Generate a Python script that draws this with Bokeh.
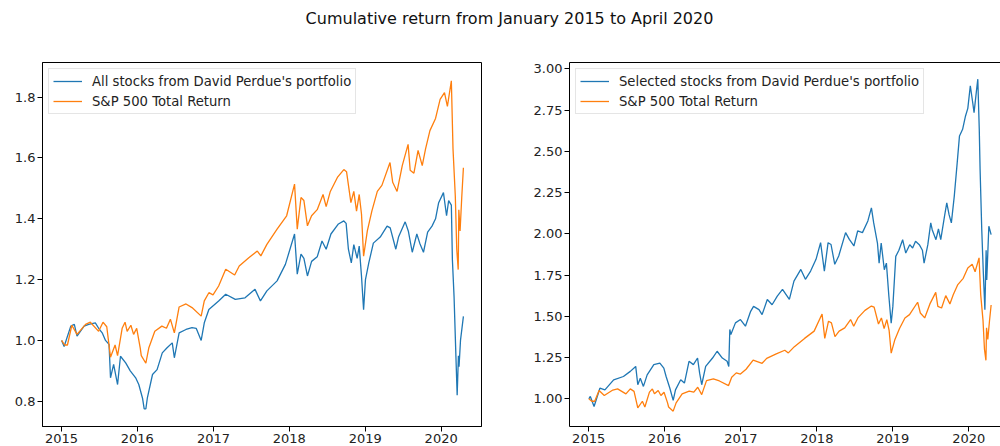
import pandas as pd
from datetime import datetime
from bokeh.plotting import figure
from bokeh.layouts import column, row
from bokeh.models import (Div, Range1d, FixedTicker, DatetimeTickFormatter,
                          NumeralTickFormatter, LinearAxis)
from bokeh.embed import file_html
from bokeh.resources import INLINE

TITLE = "Cumulative return from January 2015 to April 2020"
LABEL_ALL = "All stocks from David Perdue's portfolio"
LABEL_SEL = "Selected stocks from David Perdue's portfolio"
LABEL_SP = "S&P 500 Total Return"
YEAR_TICKS = [2015, 2016, 2017, 2018, 2019, 2020]
LEFT_Y_TICKS = [0.8, 1.0, 1.2, 1.4, 1.6, 1.8]
RIGHT_Y_TICKS = [1.0, 1.25, 1.5, 1.75, 2.0, 2.25, 2.5, 2.75, 3.0]

# S&P 500 Total Return (cumulative, same series in both panels)
sp_dates = [
    "2015-01-02", "2015-01-16", "2015-01-30", "2015-02-20", "2015-03-17", "2015-04-27",
    "2015-05-20", "2015-06-29", "2015-07-20", "2015-08-07", "2015-08-25", "2015-09-16",
    "2015-09-28", "2015-10-20", "2015-11-03", "2015-11-13", "2015-12-01", "2015-12-14",
    "2015-12-29", "2016-01-15", "2016-01-20", "2016-02-11", "2016-02-25", "2016-03-25",
    "2016-04-28", "2016-05-20", "2016-06-08", "2016-06-27", "2016-07-20", "2016-08-22",
    "2016-09-20", "2016-11-03", "2016-11-18", "2016-12-10", "2016-12-30", "2017-01-26",
    "2017-03-01", "2017-04-13", "2017-05-05", "2017-06-20", "2017-07-31", "2017-08-17",
    "2017-09-15", "2017-11-03", "2017-12-19", "2018-01-26", "2018-02-08", "2018-02-26",
    "2018-03-12", "2018-03-29", "2018-04-18", "2018-05-15", "2018-06-12", "2018-06-27",
    "2018-07-17", "2018-08-20", "2018-09-20", "2018-10-03", "2018-10-24", "2018-11-07",
    "2018-11-20", "2018-12-03", "2018-12-14", "2018-12-24", "2019-01-11", "2019-02-02",
    "2019-02-28", "2019-03-22", "2019-04-30", "2019-05-13", "2019-06-03", "2019-06-28",
    "2019-07-26", "2019-08-05", "2019-08-23", "2019-09-12", "2019-10-02", "2019-10-18",
    "2019-11-08", "2019-12-05", "2019-12-27", "2020-01-17", "2020-01-31", "2020-02-19",
    "2020-02-27", "2020-03-09", "2020-03-16", "2020-03-23", "2020-03-26", "2020-04-01",
    "2020-04-09", "2020-04-17",
]
sp_vals = [
    1.000, 0.985, 0.985, 1.050, 1.020, 1.053,
    1.060, 1.030, 1.060, 1.045, 0.945, 0.985,
    0.950, 1.040, 1.060, 1.030, 1.050, 1.020,
    1.040, 0.975, 0.950, 0.925, 0.975, 1.030,
    1.047, 1.040, 1.070, 1.025, 1.110, 1.120,
    1.108, 1.080, 1.130, 1.157, 1.150, 1.179,
    1.234, 1.215, 1.245, 1.272, 1.294, 1.278,
    1.316, 1.366, 1.410, 1.514, 1.366, 1.470,
    1.460, 1.377, 1.410, 1.430, 1.480, 1.440,
    1.490, 1.536, 1.562, 1.555, 1.453, 1.490,
    1.425, 1.480, 1.415, 1.277, 1.360, 1.426,
    1.490, 1.510, 1.585, 1.520, 1.490, 1.575,
    1.645, 1.560, 1.550, 1.625, 1.575, 1.630,
    1.690, 1.730, 1.793, 1.815, 1.770, 1.854,
    1.630, 1.475, 1.300, 1.233, 1.430, 1.360,
    1.470, 1.568,
]

# All stocks from David Perdue's portfolio (left panel)
all_dates = [
    "2015-01-02", "2015-01-14", "2015-02-15", "2015-03-04", "2015-03-17", "2015-04-20",
    "2015-05-12", "2015-06-13", "2015-06-29", "2015-07-16", "2015-08-01", "2015-08-18",
    "2015-08-25", "2015-09-09", "2015-09-28", "2015-10-12", "2015-11-06", "2015-11-28",
    "2015-12-24", "2016-01-08", "2016-01-26", "2016-02-03", "2016-02-11", "2016-02-18",
    "2016-03-14", "2016-04-05", "2016-04-30", "2016-05-23", "2016-06-17", "2016-06-27",
    "2016-07-20", "2016-08-22", "2016-09-20", "2016-10-10", "2016-11-03", "2016-11-18",
    "2016-12-10", "2017-01-26", "2017-03-01", "2017-04-16", "2017-06-02", "2017-07-20",
    "2017-08-15", "2017-09-15", "2017-11-03", "2017-12-13", "2018-01-26", "2018-02-08",
    "2018-02-26", "2018-03-12", "2018-03-29", "2018-04-18", "2018-05-15", "2018-06-07",
    "2018-06-27", "2018-07-20", "2018-08-25", "2018-09-20", "2018-10-01", "2018-10-12",
    "2018-10-26", "2018-11-07", "2018-11-23", "2018-12-03", "2018-12-14", "2018-12-24",
    "2019-01-02", "2019-01-18", "2019-02-09", "2019-03-14", "2019-04-16", "2019-05-01",
    "2019-05-28", "2019-06-10", "2019-07-12", "2019-07-27", "2019-08-15", "2019-09-06",
    "2019-09-20", "2019-10-08", "2019-10-28", "2019-11-18", "2019-12-05", "2019-12-20",
    "2020-01-12", "2020-01-27", "2020-02-06", "2020-02-19", "2020-02-24", "2020-03-03",
    "2020-03-12", "2020-03-18", "2020-03-24", "2020-03-27", "2020-04-03", "2020-04-17",
]
all_vals = [
    1.000, 0.980, 1.047, 1.053, 1.014, 1.047,
    1.053, 1.058, 1.040, 1.025, 1.000, 0.987,
    0.877, 0.921, 0.855, 0.948, 0.926, 0.900,
    0.877, 0.855, 0.810, 0.775, 0.775, 0.810,
    0.888, 0.904, 0.959, 0.976, 0.992, 0.943,
    1.025, 1.036, 1.042, 1.040, 1.000, 1.058,
    1.102, 1.130, 1.152, 1.135, 1.140, 1.168,
    1.130, 1.163, 1.196, 1.250, 1.350, 1.218,
    1.284, 1.270, 1.212, 1.260, 1.275, 1.327,
    1.300, 1.350, 1.383, 1.393, 1.385, 1.300,
    1.255, 1.315, 1.270, 1.310, 1.211, 1.101,
    1.200, 1.255, 1.320, 1.340, 1.376, 1.370,
    1.300, 1.340, 1.390, 1.360, 1.290, 1.350,
    1.320, 1.290, 1.356, 1.376, 1.400, 1.453,
    1.486, 1.410, 1.460, 1.445, 1.266, 1.145,
    0.947, 0.820, 0.950, 0.914, 1.000, 1.079,
]

# Selected stocks from David Perdue's portfolio (right panel)
sel_dates = [
    "2015-01-02", "2015-01-09", "2015-01-27", "2015-02-24", "2015-03-20", "2015-05-01",
    "2015-06-17", "2015-07-20", "2015-08-15", "2015-08-25", "2015-09-06", "2015-09-21",
    "2015-10-09", "2015-11-10", "2015-12-09", "2015-12-28", "2016-01-08", "2016-01-26",
    "2016-02-11", "2016-02-22", "2016-03-18", "2016-04-05", "2016-04-27", "2016-05-18",
    "2016-06-07", "2016-06-17", "2016-06-27", "2016-07-16", "2016-08-18", "2016-09-09",
    "2016-10-04", "2016-10-27", "2016-11-04", "2016-11-09", "2016-11-14", "2016-12-06",
    "2016-12-30", "2017-01-23", "2017-02-17", "2017-03-03", "2017-03-29", "2017-04-13",
    "2017-05-08", "2017-05-31", "2017-06-25", "2017-07-20", "2017-08-22", "2017-09-13",
    "2017-10-16", "2017-11-07", "2017-12-02", "2017-12-28", "2018-01-19", "2018-02-06",
    "2018-02-24", "2018-03-10", "2018-03-28", "2018-04-16", "2018-05-19", "2018-06-06",
    "2018-06-28", "2018-07-16", "2018-08-08", "2018-09-03", "2018-09-20", "2018-10-01",
    "2018-10-19", "2018-10-27", "2018-11-06", "2018-11-21", "2018-12-01", "2018-12-13",
    "2018-12-24", "2019-01-01", "2019-01-15", "2019-01-30", "2019-02-17", "2019-03-04",
    "2019-03-23", "2019-04-06", "2019-04-20", "2019-05-08", "2019-05-23", "2019-05-31",
    "2019-06-18", "2019-07-02", "2019-07-09", "2019-07-27", "2019-08-08", "2019-08-19",
    "2019-09-06", "2019-09-17", "2019-09-28", "2019-10-09", "2019-10-23", "2019-11-06",
    "2019-11-17", "2019-12-02", "2019-12-16", "2019-12-27", "2020-01-08", "2020-01-19",
    "2020-01-26", "2020-02-06", "2020-02-13", "2020-02-20", "2020-02-24", "2020-03-03",
    "2020-03-10", "2020-03-18", "2020-03-24", "2020-03-27", "2020-04-06", "2020-04-17",
]
sel_vals = [
    1.000, 1.014, 0.953, 1.064, 1.054, 1.115,
    1.135, 1.166, 1.196, 1.085, 1.125, 1.075,
    1.145, 1.207, 1.216, 1.186, 1.135, 1.064,
    0.990, 1.054, 1.115, 1.095, 1.227, 1.207,
    1.247, 1.155, 1.085, 1.196, 1.247, 1.288,
    1.247, 1.227, 1.196, 1.420, 1.389, 1.460,
    1.480, 1.440, 1.530, 1.560, 1.540, 1.510,
    1.602, 1.570, 1.622, 1.663, 1.602, 1.713,
    1.784, 1.724, 1.774, 1.845, 1.946, 1.774,
    1.946, 1.935, 1.815, 1.865, 2.007, 1.966,
    1.926, 2.017, 2.007, 2.078, 2.157, 2.066,
    1.944, 1.822, 1.944, 1.782, 1.822, 1.620,
    1.458, 1.560, 1.863, 1.900, 1.964, 1.883,
    1.934, 1.914, 1.955, 1.934, 1.900, 1.822,
    1.934, 2.066, 2.025, 1.964, 2.030, 1.964,
    2.106, 2.187, 2.116, 2.066, 2.228, 2.430,
    2.593, 2.633, 2.714, 2.760, 2.897, 2.800,
    2.734, 2.860, 2.937, 2.633, 2.390, 2.025,
    1.780, 1.539, 1.900, 1.720, 2.046, 1.995,
]

BLUE = "#1f77b4"
ORANGE = "#ff7f0e"
FONT = "DejaVu Sans"

sp_x = pd.to_datetime(sp_dates)
all_x = pd.to_datetime(all_dates)
sel_x = pd.to_datetime(sel_dates)
year_ticks_ms = [datetime(y, 1, 1).timestamp() * 1000 for y in YEAR_TICKS]


def style(p, yticks, yfmt):
    p.xaxis.ticker = FixedTicker(ticks=year_ticks_ms)
    p.xaxis.formatter = DatetimeTickFormatter(
        years="%Y", months="%Y", days="%Y", hours="%Y", minutes="%Y",
        seconds="%Y", milliseconds="%Y", microseconds="%Y", hourmin="%Y",
        minsec="%Y")
    p.yaxis.ticker = FixedTicker(ticks=yticks)
    p.yaxis.formatter = NumeralTickFormatter(format=yfmt)
    p.xgrid.grid_line_color = None
    p.ygrid.grid_line_color = None
    p.outline_line_color = "black"
    p.outline_line_width = 1
    p.outline_line_alpha = 1
    for ax in (p.xaxis, p.yaxis):
        ax.axis_line_color = "black"
        ax.major_tick_line_color = "black"
        ax.major_tick_out = 5
        ax.major_tick_in = 0
        ax.minor_tick_line_color = None
        ax.major_label_text_font = FONT
        ax.major_label_text_font_size = "13px"
        ax.major_label_text_color = "#222222"
        ax.major_label_standoff = 2
    p.background_fill_color = "white"
    p.border_fill_color = "white"
    lg = p.legend[0]
    lg.location = "top_left"
    lg.margin = 6
    lg.padding = 4
    lg.spacing = 4
    lg.label_height = 16
    lg.glyph_height = 16
    lg.glyph_width = 29
    lg.label_standoff = 10
    lg.label_text_font = FONT
    lg.label_text_font_size = "13.2px"
    lg.label_text_color = "#222222"
    lg.border_line_color = "#cccccc"
    lg.border_line_width = 1
    lg.background_fill_alpha = 0.8


p1 = figure(width=491, height=395, x_axis_type="datetime",
            x_range=Range1d(datetime(2014, 10, 2), datetime(2020, 7, 13)),
            y_range=Range1d(0.717, 1.914),
            output_backend="svg", toolbar_location=None,
            min_border_left=42, min_border_right=10, min_border_top=12,
            min_border_bottom=5)
p1.line(all_x, all_vals, color=BLUE, line_width=1.3, legend_label=LABEL_ALL)
p1.line(sp_x, sp_vals, color=ORANGE, line_width=1.3, legend_label=LABEL_SP)
style(p1, LEFT_Y_TICKS, "0.0")

p2 = figure(width=509, height=395, x_axis_type="datetime",
            x_range=Range1d(datetime(2014, 10, 1), datetime(2020, 6, 1)),
            y_range=Range1d(0.832, 3.038),
            output_backend="svg", toolbar_location=None,
            min_border_left=78, min_border_right=0, min_border_top=12,
            min_border_bottom=5)
p2.line(sel_x, sel_vals, color=BLUE, line_width=1.3, legend_label=LABEL_SEL)
p2.line(sp_x, sp_vals, color=ORANGE, line_width=1.3, legend_label=LABEL_SP)
style(p2, RIGHT_Y_TICKS, "0.00")
# the right panel is cut off at the window edge: no right spine, only a top one
p2.outline_line_color = None
top_spine = LinearAxis(ticker=FixedTicker(ticks=[]), major_label_text_font_size="0px",
                       major_tick_line_color=None, minor_tick_line_color=None,
                       axis_line_color="black", axis_line_width=1)
p2.add_layout(top_spine, "above")

title = Div(text=TITLE, width=999, height=50, margin=(0, 0, 0, 0),
            styles={"text-align": "center", "font-family": FONT,
                    "font-size": "16px", "color": "#111111",
                    "line-height": "38px", "text-indent": "20px"})

layout = column(title, row(p1, p2))
open("out.html", "w").write(file_html(layout, INLINE))
